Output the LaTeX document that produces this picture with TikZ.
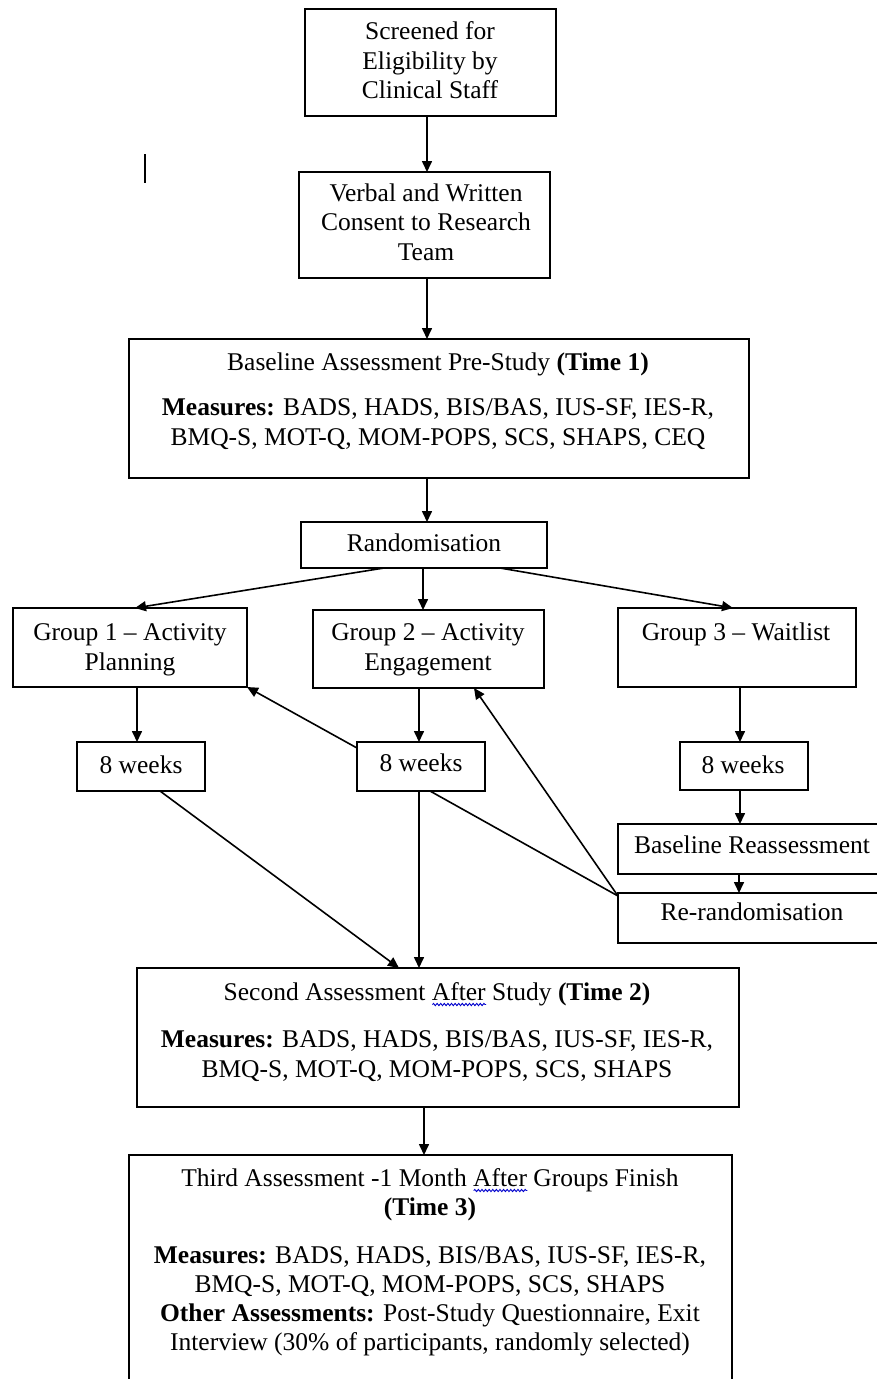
\documentclass[tikz,border=0pt]{standalone}
\usepackage{fontspec}
\setmainfont{Liberation Serif}
\usetikzlibrary{arrows.meta,decorations.pathmorphing}
\newlength\bwl
\newcommand\bluewave[1]{\settowidth\bwl{#1}\rlap{\tikz[baseline=0pt]\draw[blue!80!black, line width=0.9pt, decorate, decoration={snake, amplitude=1.1pt, segment length=3.6pt}] (0pt,-4.5pt) -- (\bwl,-4.5pt);}#1}
\newcommand\ff{\fontsize{25.5pt}{30pt}\selectfont}
\begin{document}
\begin{tikzpicture}[x=1pt,y=-1pt,
  box/.style={draw, line width=1.8pt, inner sep=0pt, outer sep=0pt},
  txt/.style={anchor=base, inner sep=0pt, font=\ff},
  arr/.style={line width=1.6pt, -{Triangle[length=11pt,width=10pt]}},
  ln/.style={line width=1.6pt}]
\useasboundingbox (0,0) rectangle (877,1379);
% stray cursor mark
\draw[line width=1.8pt] (145,154) -- (145,183);
% boxes
\node[box, minimum width=251pt, minimum height=107pt] (b1) at (430.5,62.5) {};
\node[box, minimum width=251pt, minimum height=106pt] (b2) at (424.5,225) {};
\node[box, minimum width=620pt, minimum height=139pt] (b3) at (439,408.5) {};
\node[box, minimum width=246pt, minimum height=46pt] (rand) at (424,545) {};
\node[box, minimum width=234pt, minimum height=79pt] (g1) at (130,647.5) {};
\node[box, minimum width=231pt, minimum height=78pt] (g2) at (428.5,649) {};
\node[box, minimum width=238pt, minimum height=79pt] (g3) at (737,647.5) {};
\node[box, minimum width=128pt, minimum height=49pt] (w1) at (141,766.5) {};
\node[box, minimum width=128pt, minimum height=49pt] (w2) at (421,766.5) {};
\node[box, minimum width=128pt, minimum height=48pt] (w3) at (744,766) {};
\node[box, minimum width=268pt, minimum height=50pt] (br) at (752,849) {};
\node[box, minimum width=268pt, minimum height=50pt] (rr) at (752,918) {};
\node[box, minimum width=602pt, minimum height=139pt] (s2) at (438,1037.5) {};
\node[box, minimum width=603pt, minimum height=245pt] (s3) at (430.5,1277.5) {};
% texts
\node[txt] (b1a) at (430,39) {Screened for};
\node[txt] (b1b) at (430,69) {Eligibility by};
\node[txt] (b1c) at (430,98) {Clinical Staff};
\node[txt] (b2a) at (426,201) {Verbal and Written};
\node[txt] (b2b) at (426,230) {Consent to Research};
\node[txt] (b2c) at (426,260) {Team};
\node[txt] (b3a) at (438,370) {Baseline Assessment Pre-Study \textbf{(Time 1)}};
\node[txt] (b3b) at (438,415) {\textbf{Measures:} BADS, HADS, BIS/BAS, IUS-SF, IES-R,};
\node[txt] (b3c) at (438,445) {BMQ-S, MOT-Q, MOM-POPS, SCS, SHAPS, CEQ};
\node[txt] (randt) at (424,551) {Randomisation};
\node[txt] (g1a) at (130,640) {Group 1 – Activity};
\node[txt] (g1b) at (130,670) {Planning};
\node[txt] (g2a) at (428,640) {Group 2 – Activity};
\node[txt] (g2b) at (428,670) {Engagement};
\node[txt] (g3a) at (736,640) {Group 3 – Waitlist};
\node[txt] (w1t) at (141,773) {8 weeks};
\node[txt] (w2t) at (421,771) {8 weeks};
\node[txt] (w3t) at (743,773) {8 weeks};
\node[txt] (brt) at (752,853) {Baseline Reassessment};
\node[txt] (rrt) at (752,920) {Re-randomisation};
\node[txt] (s2a) at (437,1000) {Second Assessment \bluewave{After} Study \textbf{(Time 2)}};
\node[txt] (s2b) at (437,1047) {\textbf{Measures:} BADS, HADS, BIS/BAS, IUS-SF, IES-R,};
\node[txt] (s2c) at (437,1077) {BMQ-S, MOT-Q, MOM-POPS, SCS, SHAPS};
\node[txt] (s3a) at (430,1186) {Third Assessment -1 Month \bluewave{After} Groups Finish};
\node[txt] (s3b) at (430,1215) {\textbf{(Time 3)}};
\node[txt] (s3c) at (430,1263) {\textbf{Measures:} BADS, HADS, BIS/BAS, IUS-SF, IES-R,};
\node[txt] (s3d) at (430,1292) {BMQ-S, MOT-Q, MOM-POPS, SCS, SHAPS};
\node[txt] (s3e) at (430,1321) {\textbf{Other Assessments:} Post-Study Questionnaire, Exit};
\node[txt] (s3f) at (430,1350) {Interview (30\% of participants, randomly selected)};
% connectors
\draw[arr] ([xshift=-3.5pt]b1.south) -- ([xshift=-3.5pt]b1.south |- b2.north);
\draw[arr] ([xshift=2.5pt]b2.south) -- ([xshift=2.5pt]b2.south |- b3.north);
\draw[arr] ([xshift=3pt]rand.north |- b3.south) -- ([xshift=3pt]rand.north);
\draw[arr] ([xshift=-40pt]rand.south) -- ([xshift=5pt]g1.north);
\draw[arr] ([xshift=-1pt]rand.south) -- ([xshift=-1pt]rand.south |- g2.north);
\draw[arr] ([xshift=76pt]rand.south) -- ([xshift=-4pt]g3.north);
\draw[arr] ([xshift=-4pt]w1.north |- g1.south) -- ([xshift=-4pt]w1.north);
\draw[arr] ([xshift=-2pt]w2.north |- g2.south) -- ([xshift=-2pt]w2.north);
\draw[arr] ([xshift=-4pt]w3.north |- g3.south) -- ([xshift=-4pt]w3.north);
\draw[arr] ([xshift=-4pt]w3.south) -- ([xshift=-4pt]w3.south |- br.north);
\draw[arr] ([xshift=-13pt]br.south) -- ([xshift=-13pt]rr.north);
\draw[arr] ([yshift=-6pt]w2.north west) -- (g1.south east);
\draw[arr] ([yshift=-3pt]rr.north west) -- ([xshift=45.5pt]g2.south);
\draw[ln] ([xshift=9pt]w2.south) -- ([yshift=-3pt]rr.north west);
\draw[arr] ([xshift=19pt]w1.south) -- ([xshift=-39pt]s2.north);
\draw[arr] ([xshift=-2pt]w2.south) -- ([xshift=-2pt]w2.south |- s2.north);
\draw[arr] ([xshift=-6.5pt]s3.north |- s2.south) -- ([xshift=-6.5pt]s3.north);
\end{tikzpicture}
\end{document}
